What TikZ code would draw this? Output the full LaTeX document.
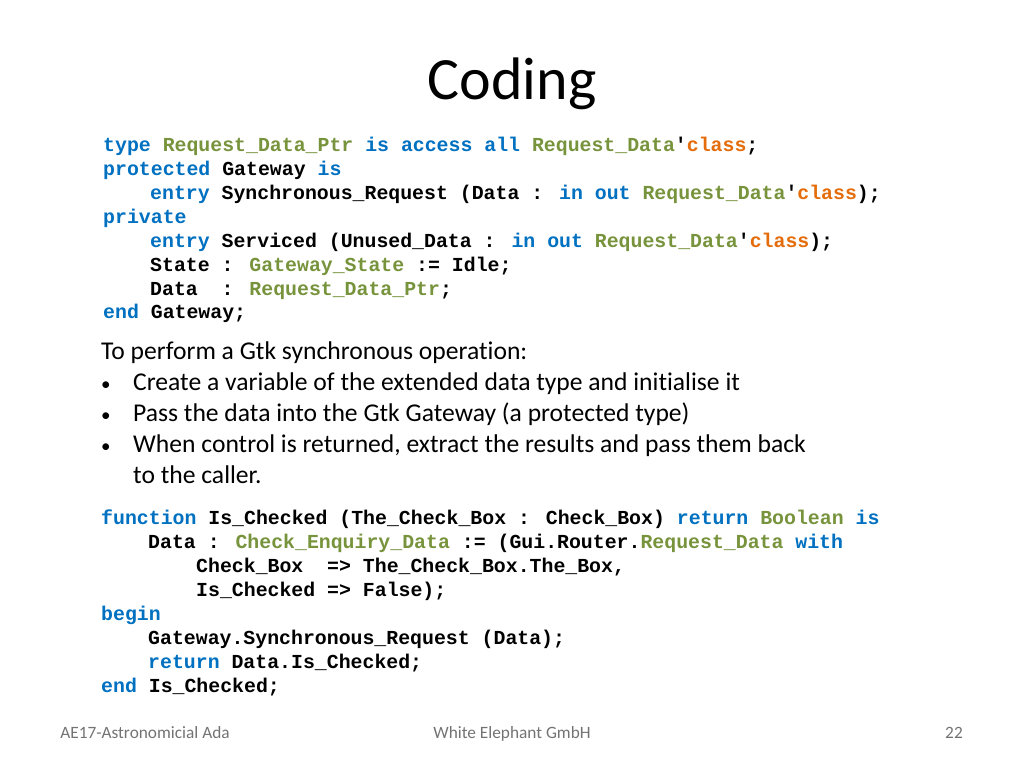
\documentclass[tikz,border=0pt]{standalone}
\usepackage{fontspec}
\setmainfont{Carlito}[Ligatures={NoCommon}]
\newfontfamily\codef{Liberation Mono}
\definecolor{kwc}{RGB}{0,112,192}
\definecolor{tyc}{RGB}{119,147,60}
\definecolor{clc}{RGB}{228,108,10}
\newcommand{\kw}[1]{\textcolor{kwc}{#1}}
\newcommand{\ty}[1]{\textcolor{tyc}{#1}}
\newcommand{\cl}[1]{\textcolor{clc}{#1}}
\begin{document}
\begin{tikzpicture}[x=1pt,y=-1pt,
  code/.style={anchor=base west,inner sep=0pt,font=\codef\bfseries\fontsize{19.85}{22}\selectfont},
  body/.style={anchor=base west,inner sep=0pt,font=\fontsize{25.6}{28}\selectfont},
  foot/.style={anchor=base,inner sep=0pt,text=black!55,font=\fontsize{17.3}{19}\selectfont}]
\useasboundingbox (0,0) rectangle (1024,768);
\node[anchor=base,inner sep=0pt,font=\fontsize{60}{64}\selectfont] (title) at (512,99) {Coding};
\node[code] (a1) at (103,151) {\kw{type} \ty{Request\_Data\_Ptr} \kw{is} \kw{access} \kw{all} \ty{Request\_Data}'\cl{class};};
\node[code] (a2) at (103,175) {\kw{protected} Gateway \kw{is}};
\node[code] (a3) at (150,199) {\kw{entry} Synchronous\_Request (Data : \kw{in} \kw{out} \ty{Request\_Data}'\cl{class});};
\node[code] (a4) at (103,223) {\kw{private}};
\node[code] (a5) at (150,247) {\kw{entry} Serviced (Unused\_Data : \kw{in} \kw{out} \ty{Request\_Data}'\cl{class});};
\node[code] (a6) at (150,271) {State : \ty{Gateway\_State} := Idle;};
\node[code] (a7) at (150,295) {Data~~: \ty{Request\_Data\_Ptr};};
\node[code] (a8) at (103,318) {\kw{end} Gateway;};
\node[body] (t0) at (101,359) {To perform a Gtk synchronous operation:};
\node[body,font=\fontsize{19}{20}\selectfont] (b1) at (101,390) {\textbullet};
\node[body] (t1) at (133,390) {Create a variable of the extended data type and initialise it};
\node[body,font=\fontsize{19}{20}\selectfont] (b2) at (101,421) {\textbullet};
\node[body] (t2) at (133,421) {Pass the data into the Gtk Gateway (a protected type)};
\node[body,font=\fontsize{19}{20}\selectfont] (b3) at (101,452) {\textbullet};
\node[body] (t3) at (133,452) {When control is returned, extract the results and pass them back};
\node[body] (t4) at (133,483) {to the caller.};
\node[code] (c1) at (101,524) {\kw{function} Is\_Checked (The\_Check\_Box : Check\_Box) \kw{return} \ty{Boolean} \kw{is}};
\node[code] (c2) at (148,548) {Data : \ty{Check\_Enquiry\_Data} := (Gui.Router.\ty{Request\_Data} \kw{with}};
\node[code] (c3) at (196,572) {Check\_Box~~=> The\_Check\_Box.The\_Box,};
\node[code] (c4) at (196,596) {Is\_Checked => False);};
\node[code] (c5) at (101,620) {\kw{begin}};
\node[code] (c6) at (148,644) {Gateway.Synchronous\_Request (Data);};
\node[code] (c7) at (148,668) {\kw{return} Data.Is\_Checked;};
\node[code] (c8) at (101,692) {\kw{end} Is\_Checked;};
\node[foot] (f1) at (145,738) {AE17-Astronomicial Ada};
\node[foot] (f2) at (512,738) {White Elephant GmbH};
\node[foot] (f3) at (954,738) {22};
\end{tikzpicture}
\end{document}
